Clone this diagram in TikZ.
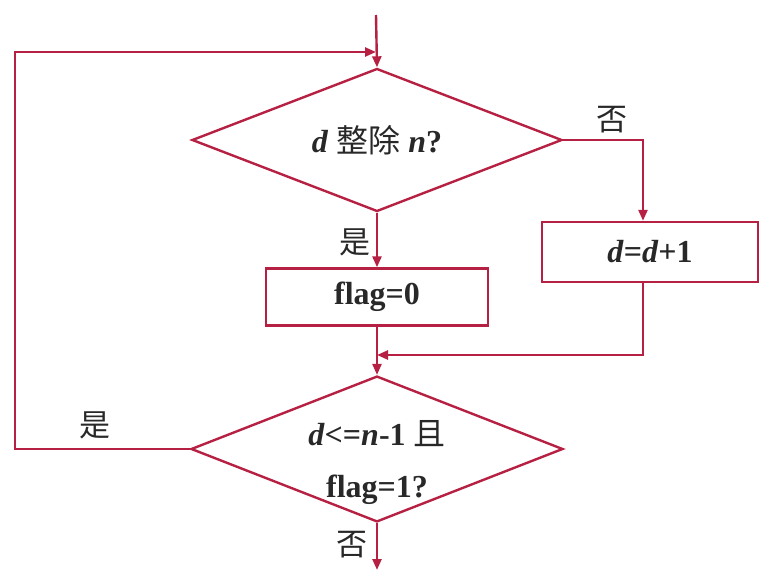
\documentclass[tikz,border=0pt]{standalone}
\usepackage{fontspec}
\setmainfont{Liberation Serif}
\newfontfamily\cjk{Noto Sans CJK SC}
\usetikzlibrary{shapes.geometric,arrows.meta}
\definecolor{lc}{RGB}{182,32,66}
\definecolor{tc}{RGB}{40,40,40}
\begin{document}
\begin{tikzpicture}[x=1pt,y=-1pt,
  conn/.style={draw=lc,line width=2.4pt},
  arr/.style={conn,-{Triangle[length=11pt,width=9pt]}},
  dia/.style={diamond,draw=lc,line width=2.4pt,inner sep=0pt,shape aspect=2.55,text=tc},
  box/.style={rectangle,draw=lc,line width=2.4pt,inner sep=0pt,text=tc},
  lbl/.style={text=tc,inner sep=0pt,font=\fontsize{31}{34}\selectfont\cjk},
  font=\fontsize{32}{40}\selectfont\bfseries]
\useasboundingbox (0,0) rectangle (761,570);
\node[dia,minimum width=370pt,minimum height=143pt] (d1) at (377,140) {\textit{d} {\cjk\mdseries 整除} \textit{n}?};
\node[box,minimum width=222pt,minimum height=57pt] (b1) at (377,297) {flag=0};
\node[box,minimum width=216pt,minimum height=60pt] (b2) at (650,252) {\textit{d}=\textit{d}+1};
\node[dia,minimum width=366pt,minimum height=145pt] (d2) at (377,449) {\raisebox{-14pt}[\height][\depth]{\begin{tabular}{@{}c@{}}\textit{d}<=\textit{n}-1 {\cjk\mdseries 且}\\[12pt]flag=1?\end{tabular}}};
\coordinate (start) at (376,15);
\coordinate (loopA) at (15,449);
\coordinate (loopB) at (15,52);
\coordinate (loopC) at (376,52);
\coordinate (rA) at (643,140);
\coordinate (mB) at (377,355);
\coordinate (endp) at (377,570);
\draw[arr] (start) -- (d1.north);
\draw[arr] (d2.west) -- (loopA) -- (loopB) -- (loopC);
\draw[arr] (d1.east) -- (rA) -- (rA |- b2.north);
\draw[arr] (d1.south) -- (b1.north);
\draw[arr] (b1.south) -- (d2.north);
\draw[arr] (rA |- b2.south) -- (rA |- mB) -- (mB);
\draw[arr] (d2.south) -- (endp);
\node[lbl] (l1) at (612,120) {否};
\node[lbl] (l2) at (355,242) {是};
\node[lbl] (l3) at (95,425) {是};
\node[lbl] (l4) at (352,545) {否};
\end{tikzpicture}
\end{document}
